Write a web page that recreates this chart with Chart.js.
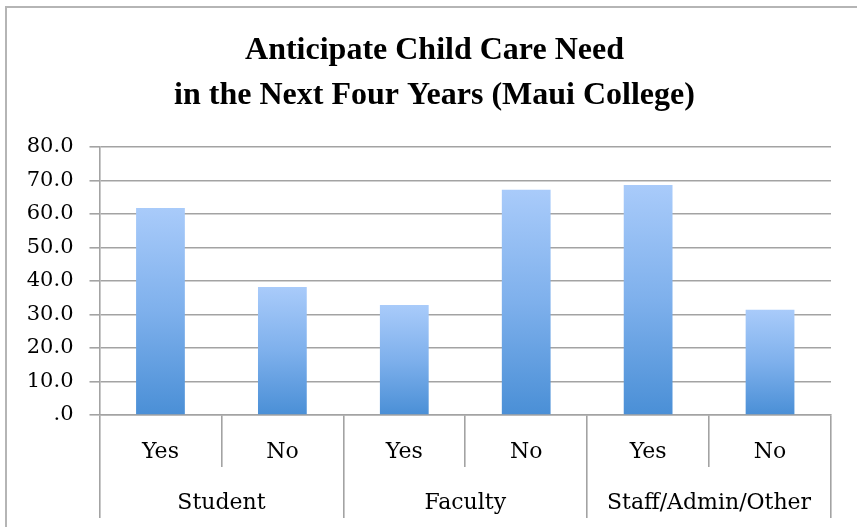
<!DOCTYPE html>
<html>
<head>
<meta charset="utf-8">
<script src="https://cdn.jsdelivr.net/npm/chart.js@4/dist/chart.umd.min.js"></script>
<style>
  html, body { margin: 0; padding: 0; background: #fff; }
  #wrap { position: relative; width: 857px; height: 527px; overflow: hidden; }
  #frame { position: absolute; left: 5px; top: 6px; width: 900px; height: 600px;
           border-left: 2px solid #b5b5b5; border-top: 2px solid #b5b5b5; }
  #c { position: absolute; left: 0; top: 0; }
</style>
</head>
<body>
<div id="wrap">
  <div id="frame"></div>
  <canvas id="c" width="857" height="527"></canvas>
</div>
<script>
const titleLines = ['Anticipate Child Care Need', 'in the Next Four Years (Maui College)'];
const subCategories = ['Yes', 'No', 'Yes', 'No', 'Yes', 'No'];
const groups = ['Student', 'Faculty', 'Staff/Admin/Other'];
const values = [61.8, 38.2, 32.8, 67.2, 68.6, 31.4];
const yTickLabels = ['.0', '10.0', '20.0', '30.0', '40.0', '50.0', '60.0', '70.0', '80.0'];

const gridColor = '#a3a3a3';
const labelFont = '"DejaVu Serif", "Liberation Serif", serif';

function barGradient(context) {
  const chart = context.chart;
  const area = chart.chartArea;
  if (!area) return '#5b9be0';
  const v = context.raw;
  const yScale = chart.scales.y;
  const top = yScale.getPixelForValue(v);
  const bottom = yScale.getPixelForValue(0);
  const g = chart.ctx.createLinearGradient(0, top, 0, bottom);
  g.addColorStop(0, '#a9cbfa');
  g.addColorStop(0.5, '#7eb0ec');
  g.addColorStop(1, '#4a8fd6');
  return g;
}

// Centre the title over the framed chart rather than the full canvas
const titleShift = {
  id: 'titleShift',
  afterLayout(chart) {
    if (chart.titleBlock) chart.titleBlock.left = 38;
  }
};

new Chart(document.getElementById('c'), {
  type: 'bar',
  data: {
    labels: subCategories,
    datasets: [{
      data: values,
      xAxisID: 'x',
      yAxisID: 'y',
      backgroundColor: barGradient,
      borderWidth: 0,
      categoryPercentage: 1.0,
      barPercentage: 0.4
    }]
  },
  plugins: [titleShift],
  options: {
    responsive: false,
    animation: false,
    devicePixelRatio: 1,
    layout: { padding: { left: 0, right: 26, top: 0, bottom: 0 } },
    plugins: {
      legend: { display: false },
      tooltip: { enabled: false },
      title: {
        display: true,
        text: titleLines,
        color: '#000',
        font: { family: '"Liberation Serif", "Times New Roman", serif', size: 32, weight: 'bold', lineHeight: 1.42 },
        padding: { top: 28, bottom: 28 }
      }
    },
    scales: {
      y: {
        min: 0,
        max: 80,
        afterFit: (s) => { s.width = 99.5; },
        ticks: {
          stepSize: 10,
          color: '#000',
          padding: 16,
          font: { family: labelFont, size: 21 },
          callback: (v, i) => yTickLabels[i]
        },
        grid: { color: gridColor, lineWidth: 1.6, drawTicks: true, tickLength: 10 },
        border: { display: true, color: gridColor, width: 1.6 }
      },
      x: {
        position: 'bottom',
        afterFit: (s) => { s.height = 52; },
        ticks: {
          color: '#000',
          padding: -28,
          maxRotation: 0,
          autoSkip: false,
          font: { family: labelFont, size: 22 }
        },
        grid: { offset: true, drawOnChartArea: false, drawTicks: true, tickLength: 52, color: gridColor, lineWidth: 1.6 },
        border: { display: true, color: gridColor, width: 1.6 }
      },
      x2: {
        type: 'category',
        position: 'bottom',
        labels: groups,
        afterFit: (s) => { s.height = 60; },
        ticks: {
          color: '#000',
          padding: -28,
          maxRotation: 0,
          autoSkip: false,
          font: { family: labelFont, size: 22 }
        },
        grid: { offset: true, drawOnChartArea: false, drawTicks: true, tickLength: 51, color: gridColor, lineWidth: 1.6 },
        border: { display: false }
      }
    }
  }
});
</script>
</body>
</html>
